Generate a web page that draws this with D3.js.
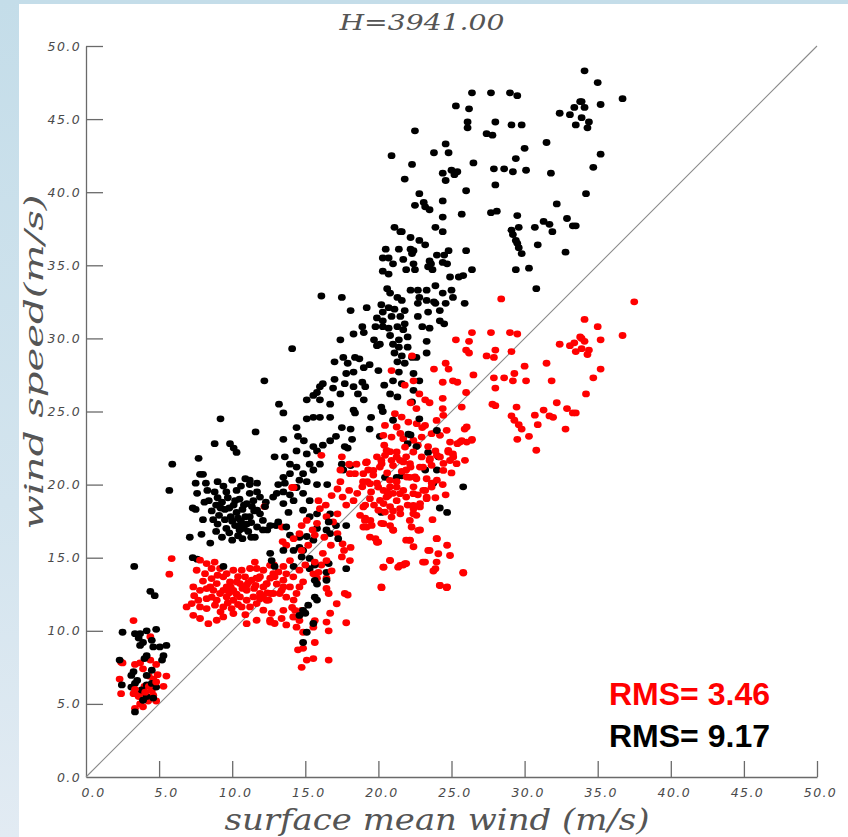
<!DOCTYPE html>
<html>
<head>
<meta charset="utf-8">
<script src="https://cdn.jsdelivr.net/npm/d3@7"></script>
<style>
  html, body { margin: 0; padding: 0; }
  body { width: 848px; height: 837px; overflow: hidden;
         background: linear-gradient(180deg, #c4dde9 0%, #d3e4ee 60%, #e2ebf3 100%); }
</style>
</head>
<body>
<svg id="chart" width="848" height="837"></svg>
<script>
// tick values
const xTicks = [0, 5, 10, 15, 20, 25, 30, 35, 40, 45, 50];
const yTicks = [0, 5, 10, 15, 20, 25, 30, 35, 40, 45, 50];

// black points: [surface mean wind, wind speed] (uncorrected)
const blackPts = [
  [2.5,9.9],[3.35,9.8],[3.7,9.8],[4.15,10.0],[4.8,10.1],[3.6,9.5],[3.9,9.2],[4.5,9.35],[4.6,8.9],[5.05,8.9],[5.5,9.0],
  [3.7,9.0],[4.15,8.3],[4.0,8.1],[5.3,8.3],[5.2,8.0],[2.3,8.0],[3.25,7.2],[3.1,6.95],[3.5,6.6],[4.15,6.95],[4.5,7.3],
  [4.15,6.3],[2.45,6.3],[3.1,6.15],[3.35,6.4],[3.8,5.95],[4.15,5.5],[4.6,5.4],[4.8,6.15],[4.5,6.4],[3.35,4.45],[3.9,5.25],
  [3.3,14.4],[4.4,12.7],[4.7,12.4],[5.7,19.6],[5.9,21.4],
  [7.7,21.8],[7.8,20.7],[8.0,20.7],[7.5,20.1],[7.6,19.4],[7.3,18.4],[7.5,18.3],[7.1,16.4],[7.3,15.0],[7.6,14.9],
  [8.2,20.1],[8.8,19.5],[9.4,19.9],[10.0,20.3],[10.6,19.9],[11.2,20.0],[11.7,19.5],[12.3,18.8],
  [8.4,18.9],[8.9,18.6],[9.3,18.8],[9.7,19.1],[10.1,18.6],[10.5,19.0],[11.0,18.7],
  [8.6,18.2],[9.1,17.9],[9.5,18.3],[9.9,17.8],[10.3,18.1],[10.6,17.5],[10.9,17.8],[11.3,17.4],
  [9.0,17.3],[9.6,17.0],[10.2,17.2],[10.5,16.9],[10.8,17.0],[11.1,16.8],[12.4,16.9],[13.0,17.2],
  [9.3,16.4],[10.0,16.2],[10.7,16.3],[8.0,17.6],[7.9,16.6],[8.5,16.0],[10.4,17.7],[10.7,18.3],[9.8,18.4],[11.0,17.3],[9.4,14.4],
  [8.3,19.6],[9.0,20.2],[9.6,19.5],[10.3,19.6],[10.9,20.4],[8.7,17.6],[9.2,18.4],[10.0,17.5],[10.2,18.9],[10.8,18.6],
  [11.5,18.2],[9.8,16.7],[10.4,16.5],[11.3,16.4],[8.9,16.8],[9.5,17.6],[10.6,17.2],[11.9,18.0],[8.1,18.8],[9.0,19.1],
  [9.2,24.5],[8.8,22.8],[9.85,22.8],[10.1,22.5],[10.3,22.2],[11.6,23.6],[12.2,27.1],[14.1,29.3],[13.2,25.5],[13.5,24.9],
  [12.9,21.9],[13.6,21.9],[13.5,23.1],[14.4,23.9],[14.5,23.3],[14.9,23.0],[14.4,22.3],[15.1,22.1],[15.55,22.6],[15.8,22.3],
  [16.2,22.7],[16.7,23.0],[13.95,21.4],[14.4,21.2],[14.85,20.75],[14.6,20.3],[15.1,20.2],[15.3,21.4],[16.0,21.4],[15.55,21.0],
  [13.95,20.75],[13.5,20.5],[13.6,20.1],[13.15,20.0],[13.05,19.4],[13.5,19.5],[13.95,19.3],[14.85,19.4],[14.4,19.8],[15.8,20.0],
  [16.5,20.0],[17.5,21.4],[17.6,21.0],[18.1,21.3],
  [15.1,25.8],[15.55,26.1],[16.0,25.8],[15.8,26.3],[16.2,26.9],[16.0,26.7],[15.1,24.5],[15.55,24.6],[16.0,24.6],[16.1,32.9],
  [17.1,23.3],[18.1,23.8],[17.7,22.6],
  [11.2,20.3],[11.7,20.1],[11.2,19.4],[11.45,18.9],[11.9,19.15],[11.35,18.5],[11.7,18.25],[11.2,17.8],[12.25,18.5],
  [12.8,19.15],[13.5,18.7],[14.2,18.9],[15.3,18.9],[15.8,18.0],[15.3,17.8],[16.7,18.0],[14.85,18.25],[13.85,18.1],
  [12.1,17.55],[12.6,17.2],[11.7,17.1],[12.1,16.9],[11.55,16.4],
  [13.15,17.45],[13.7,17.1],[13.95,16.55],[14.6,16.4],[15.1,16.45],[15.55,16.2],[15.8,17.0],[16.45,16.9],[16.7,16.65],[17.1,17.2],
  [12.6,15.3],[12.7,14.8],[13.5,15.5],[14.2,15.5],[14.6,15.7],[14.85,15.5],[14.75,15.05],[15.3,14.95],[15.65,14.5],[15.3,14.25],
  [14.2,14.4],[12.9,14.4],[16.6,14.6],[16.45,14.0],[17.8,14.25],[15.65,13.45],[15.8,13.2],[16.45,13.45],[15.65,12.3],[15.8,12.1],
  [15.2,11.75],[15.0,11.2],[14.6,11.05],[14.85,11.4],[15.55,10.5],[15.1,9.9],[14.85,9.2],
  [16.6,17.45],[17.25,16.3],[17.8,17.2],
  [20.2,18.1],[20.45,20.5],[21.25,20.5],[21.6,20.6],[23.2,21.0],[24.0,21.0],[23.75,20.1],[24.2,18.4],[24.7,18.1],[25.8,19.85],
  [23.4,22.2],[24.1,21.9],
  [17.5,32.8],[18.1,31.9],[19.2,32.1],[20.6,33.4],[20.8,33.1],[21.3,32.8],[21.6,32.6],[22.2,33.3],[22.7,33.3],[23.3,33.3],
  [23.9,33.6],[22.8,32.8],[22.7,32.4],[23.3,32.6],[23.8,32.5],[23.9,32.4],[24.4,33.1],[25.0,33.3],[25.1,32.8],[24.6,32.4],[25.9,32.4],
  [20.2,32.3],[20.7,32.1],[20.3,31.8],[21.1,32.0],[21.8,31.9],[21.5,31.5],
  [20.9,31.5],[20.3,31.2],[19.9,31.4],[19.8,30.8],[20.3,30.8],[20.7,30.7],[21.3,30.8],[21.8,31.0],[21.7,30.6],[22.0,30.1],
  [22.7,31.5],[23.0,30.8],[23.5,30.7],[23.4,31.8],[24.2,31.2],[24.5,31.0],[24.2,31.9],
  [18.9,30.8],[19.0,30.4],[18.3,30.3],[19.7,29.9],[19.9,29.5],[20.1,29.6],
  [20.8,30.2],[21.0,29.6],[21.4,29.4],[21.1,29.0],[21.6,28.8],[21.4,29.9],
  [22.0,29.4],[22.6,28.7],[23.3,29.0],[23.3,29.8],[17.4,29.9],[17.6,28.7],[17.9,28.3],[17.0,28.4],
  [18.4,28.7],[18.7,28.6],[19.0,28.0],[19.4,28.2],[20.0,27.8],
  [21.3,28.4],[21.8,28.3],[22.3,28.7],[21.4,27.7],[22.4,27.6],[22.8,27.1],
  [17.0,27.2],[17.8,27.6],[18.3,27.7],[17.7,26.9],[18.3,26.7],[18.9,27.0],[18.6,26.2],[19.0,25.8],[16.9,26.6],[17.4,26.2],
  [20.4,26.8],[20.8,26.2],[21.3,26.0],[21.6,26.9],[21.0,27.1],
  [18.3,25.1],[18.4,24.9],[20.2,25.3],[20.3,25.0],[19.5,24.6],[16.7,25.5],[16.7,24.6],
  [17.5,23.9],[18.2,23.1],[19.4,23.8],[20.1,23.3],[22.8,24.5],[24.0,23.7],[22.2,23.4],[22.0,22.8],[22.6,22.6],[17.9,22.5],[30.8,33.4],
  [22.4,26.45],[22.3,25.65],[21.0,24.4],[22.05,23.45],[19.1,26.7],
  [26.4,46.8],[27.7,46.8],[29.0,46.8],[29.5,46.6],[25.3,45.9],[26.2,45.7],[26.1,44.8],[26.1,44.4],[28.0,44.8],[29.1,44.6],
  [29.8,44.6],[22.5,44.2],[27.4,44.0],[27.8,43.9],[31.5,43.4],[24.6,43.3],[30.0,43.0],[20.9,42.5],[23.8,42.7],[24.8,42.7],
  [29.4,42.3],[22.3,41.9],[26.5,42.0],[25.0,41.5],[25.4,41.4],[25.2,41.2],[24.4,41.3],[24.6,40.8],[27.9,41.6],[28.6,41.6],
  [29.2,41.4],[30.1,41.5],[31.8,41.3],[21.8,40.9],[28.0,40.5],[26.0,40.1],[22.8,39.9],[22.5,39.1],[23.1,39.3],[23.2,39.0],
  [23.5,38.8],[24.4,39.4],[32.2,39.2],[27.7,38.6],[28.1,38.7],[24.4,38.3],[25.7,38.5],[29.5,38.4],[31.3,38.0],[31.7,37.8],
  [21.1,37.6],[21.5,37.3],[21.6,37.3],[23.9,37.6],[24.4,37.3],[29.6,37.6],[29.1,37.4],[29.2,37.1],[30.7,37.6],[31.9,37.3],
  [22.2,36.9],[22.8,36.7],[23.2,36.4],[29.4,36.7],[29.5,36.5],[29.6,36.2],[29.8,35.8],[30.9,36.4],[20.5,36.1],[21.4,36.1],
  [22.2,36.1],[22.4,36.0],[22.3,35.8],[24.8,36.0],[24.5,35.7],[24.0,35.7],[26.0,36.0],[20.3,35.5],[20.7,35.5],[21.0,35.1],
  [21.7,35.4],[23.5,35.3],[23.6,35.1],[23.4,34.9],[24.4,35.2],[24.7,35.1],[22.4,35.1],[21.9,34.7],[22.5,34.7],[23.7,34.7],
  [20.3,34.6],[20.7,34.4],[26.4,34.7],[25.8,34.3],[25.5,34.2],[24.9,34.2],[29.4,34.7],[30.3,34.8],
  [34.1,48.3],[35.0,47.5],[36.7,46.4],[33.8,46.2],[33.9,46.2],[33.4,45.8],[34.1,45.8],[35.2,46.0],[33.1,45.3],[32.4,45.4],
  [33.9,45.1],[33.5,44.6],[34.4,44.8],[34.3,44.4],[35.2,42.6],[34.7,41.7],[34.2,39.9],[32.9,38.2],[33.3,37.7],[33.5,37.7],[32.8,35.9]
];

// red points: [surface mean wind, wind speed] (corrected)
const redPts = [
  [3.25,10.7],[4.4,9.6],[2.4,7.85],[2.5,7.8],[3.35,7.7],[3.7,7.8],[3.9,7.4],[4.4,8.0],[4.8,7.7],[4.9,7.0],[5.5,6.9],
  [5.3,6.2],[4.6,6.7],[4.3,6.9],[4.0,6.2],[4.5,5.9],[3.7,5.7],[2.3,6.7],[2.4,5.7],[3.25,5.7],[3.6,5.5],[3.7,5.0],
  [3.35,4.7],[3.9,4.8],[4.25,5.2],[4.6,5.6],[4.8,5.2],[3.35,6.0],[4.05,5.8],[4.3,6.2],[4.8,6.5],
  [5.86,14.94],[5.7,13.87],
  [7.57,14.14],[8.14,13.91],[8.59,13.57],[8.94,13.23],[9.39,13.69],[9.62,13.0],[10.08,12.77],[10.53,13.23],[10.88,13.69],
  [11.33,13.46],[11.79,13.57],[12.13,13.0],[11.9,12.55],[11.45,12.32],[10.99,12.09],[10.53,12.32],[10.08,12.09],[9.62,12.32],
  [9.17,12.55],[8.71,12.77],[8.25,12.89],[7.8,12.77],[7.34,13.0],[7.23,11.86],[7.68,12.09],[7.8,11.63],[8.25,11.52],
  [8.82,11.75],[9.39,11.63],[9.96,11.52],[10.65,11.63],[11.22,11.63],[11.67,11.86],[12.36,12.09],[12.81,12.55],[13.38,12.77],
  [13.95,13.0],[14.18,13.69],[13.5,13.46],[13.16,14.03],[12.59,14.48],[12.13,14.14],[11.67,14.26],[11.22,14.26],[10.65,14.14],
  [10.08,14.14],[9.62,13.91],[9.17,14.26],[8.59,14.26],[8.25,14.6],[7.8,14.83],[7.34,11.06],[7.8,10.84],[8.37,10.49],
  [8.94,10.72],[9.39,10.95],[10.08,11.18],[10.99,10.49],[11.67,10.72],[12.59,10.72],[13.38,10.84],[14.18,10.95],[12.13,11.41],
  [6.88,11.63],[12.81,13.91],[10.99,13.12],[10.31,13.34],[9.85,13.34],[8.94,12.09],[8.25,12.2],[9.39,12.77],[10.99,12.77],[12.36,13.23],
  [8.0,13.4],[8.5,13.0],[9.0,13.8],[9.8,12.6],[10.3,12.5],[10.7,12.9],[11.1,13.3],[11.5,12.9],[9.2,11.3],[9.7,11.9],
  [10.4,11.8],[10.9,11.1],[11.9,12.2],[8.6,12.3],[9.9,13.0],[10.4,13.7],[11.6,13.1],[12.4,12.6],[7.4,12.4],[8.8,14.7],
  [12.2,18.5],[14.1,19.8],
  [13.4,17.1],[13.45,16.1],[13.7,15.85],[11.55,14.7],[11.65,13.6],[11.9,13.7],[12.6,13.6],[12.85,14.5],
  [12.9,13.7],[13.05,13.2],[13.5,13.0],[13.25,12.55],[13.7,12.3],[12.5,12.1],[12.6,12.55],[12.1,12.4],[12.35,13.2],
  [12.7,11.2],[12.6,10.6],[12.9,10.5],[13.5,11.4],[13.7,10.4],[14.2,12.1],[14.3,11.4],
  [14.6,13.0],[14.4,12.55],[14.85,13.35],[15.8,13.6],[15.9,14.0],[16.1,14.5],[16.45,13.6],[16.45,12.9],[16.6,12.55],
  [17.15,11.85],[17.7,12.55],[17.9,12.45],[14.1,11.6],[14.75,11.4],[14.2,10.95],[14.6,10.7],[14.4,10.25],[14.85,9.9],
  [15.55,10.25],[15.65,10.7],[16.45,10.6],[16.7,11.2],[16.6,10.0],[14.5,8.7],[14.85,8.8],[15.1,8.0],[15.55,8.1],[14.75,7.5],
  [16.6,8.0],[15.65,9.2],[17.8,10.55],
  [15.9,18.9],[16.0,18.35],[16.4,18.6],[16.8,19.25],[17.2,19.7],[17.55,19.15],[18.0,19.6],[18.3,18.9],[18.55,19.4],[18.9,19.85],
  [19.25,20.2],[19.5,19.5],[19.1,18.6],[18.75,17.9],[17.8,18.6],[17.2,18.0],[16.9,17.45],[17.2,16.65],[17.55,15.95],[17.65,15.5],
  [18.1,15.7],[16.75,15.85],[16.3,16.4],[15.65,16.55],[15.5,16.9],[15.1,17.55],[14.75,17.2],[14.6,16.65],[14.2,16.3],[15.2,15.85],
  [14.75,15.5],[13.95,14.8],[13.5,14.4],[13.7,13.9],[16.2,15.3],[16.45,14.8],[17.5,15.05],[18.05,14.8],[16.8,14.1],[15.65,14.7],
  [15.55,13.9],[14.6,14.15],[15.0,14.5],[16.45,17.8],[15.8,17.35],
  [17.4,21.0],[18.05,20.75],[18.5,21.4],[19.2,21.55],[19.3,21.0],[19.65,20.65],[20.1,21.2],[20.2,21.65],[19.9,21.9],[20.45,22.0],
  [20.8,22.25],[21.25,21.9],[21.0,21.3],[21.7,21.55],[21.9,21.0],[22.15,20.5],[21.25,20.2],[20.8,19.85],[20.35,19.6],[19.9,20.1],
  [20.55,19.15],[21.0,19.4],[21.7,19.6],[22.4,19.85],[21.9,19.15],[21.25,18.9],[20.8,18.5],[20.35,18.7],[20.0,18.25],[21.5,18.0],
  [22.4,18.35],[22.85,18.7],[23.2,19.6],[22.6,20.4],[23.05,21.2],[23.5,21.65],[24.0,22.0],[24.45,21.45],[24.9,21.65],[25.1,22.1],
  [24.0,20.3],[23.65,20.1],[23.3,19.15],[22.6,17.9],[22.15,17.55],[22.85,16.9],[22.4,15.75],[22.15,16.2],[21.0,16.9],[20.8,17.2],
  [20.2,17.35],[19.45,17.55],[19.8,16.3],[19.9,16.05],[19.2,17.1],[19.1,17.7],
  [20.6,20.8],[21.6,20.9],[22.2,21.2],[21.9,21.9],[20.4,22.7],[21.5,23.5],[22.7,22.7],[23.4,22.6],[23.9,22.3],[23.0,23.9],
  [21.0,18.2],[22.0,18.6],[22.7,19.3],[20.6,19.5],[19.7,18.6],[23.9,19.1],[24.4,20.0],[24.6,19.3],[25.0,20.8],[23.7,17.6],
  [24.0,16.3],[24.7,15.85],[24.9,15.15],[23.9,14.25],[24.2,13.1],[24.7,13.0],[25.8,14.0],[23.05,14.7],[23.5,15.5],[21.7,14.5],
  [21.35,14.35],[21.9,14.6],[20.8,14.8],[20.35,14.35],[20.2,13.0],[21.9,16.2],
  [16.1,22.0],[17.5,21.9],[18.0,21.4],[19.15,21.5],[17.4,20.2],[18.4,20.75],[18.95,20.2],[14.2,19.8],
  [21.13,24.85],[21.59,24.62],[20.45,24.05],[21.25,23.94],[22.05,24.28],[22.62,24.17],[23.19,24.05],[23.98,24.39],[24.44,24.74],
  [24.67,23.71],[24.21,23.37],[23.64,23.48],[22.96,23.25],[22.39,23.03],[21.7,23.14],[20.9,23.25],[20.34,23.37],[20.56,22.34],
  [21.25,22.23],[21.82,22.57],[22.39,22.23],[22.96,21.89],[23.53,21.77],[24.21,21.89],[24.78,22.23],[25.12,21.89],[25.58,22.91],
  [26.04,22.91],[26.38,23.03],[25.92,21.66],[25.35,21.43],[24.44,20.97],[23.64,21.32],[22.84,21.2],[22.16,21.43],[21.48,21.66],
  [20.9,21.66],[20.22,21.43],[19.65,20.97],[19.2,21.54],[18.97,20.75],[19.42,20.06],[19.99,19.83],[20.79,20.29],[21.25,19.83],
  [21.93,20.52],[22.5,20.52],[23.3,20.4],[23.64,19.83],[23.07,19.61],[22.39,19.38],[21.48,19.38],[20.68,19.26],[20.11,18.92],
  [19.42,19.04],[18.97,18.47],[19.08,17.55],[18.97,17.1],[19.54,17.21],[20.45,18.12],[20.9,17.78],[21.48,18.35],[22.39,18.58],
  [22.84,18.47],[23.3,19.04],[22.39,18.01],[21.02,16.87],[20.34,17.33],[19.42,16.41],[19.99,16.07],[22.27,17.1],[22.73,16.87],
  [23.98,16.3],[22.16,16.19],[23.41,15.5],[24.1,15.27],[20.79,14.82],[20.34,14.36],[21.48,14.48],[21.82,14.59],[23.19,14.7],
  [23.98,14.7],[25.81,13.95],[23.76,14.09],[20.22,12.95],[24.21,13.11],[24.67,12.95],[26.04,23.94],[24.9,22.91],[24.78,22.34],
  [28.4,32.7],[25.3,29.9],[26.4,30.4],[27.7,30.4],[29.0,30.4],[29.5,30.3],[26.2,29.8],[26.0,29.2],[26.2,29.0],[27.4,28.8],
  [27.9,28.7],[28.0,29.2],[29.1,29.1],[31.5,28.3],[30.0,28.1],[29.3,27.6],[28.6,27.3],[29.2,27.1],[30.1,27.1],[27.9,27.3],
  [28.0,26.6],[26.5,27.5],[24.6,28.3],[24.8,27.9],[23.8,27.9],[24.4,27.0],[25.1,27.1],[25.4,27.0],[26.0,26.3],[25.7,25.3],
  [24.4,25.9],[24.4,25.2],[22.3,28.8],[21.8,26.8],[22.4,27.1],[22.8,26.2],[23.2,25.8],[23.5,25.6],[22.2,25.6],[22.6,25.2],
  [20.9,27.8],[27.8,25.5],[28.0,25.4],[29.1,24.7],[29.3,24.4],[29.6,24.1],[29.8,23.8],[31.3,25.1],[31.7,24.7],[30.9,24.1],
  [30.3,23.3],[29.5,23.1],[25.9,23.8],[26.4,23.1],[25.7,23.0],[25.4,22.8],
  [29.45,25.3],[30.7,24.75],[31.95,24.6],[32.2,25.6],[30.8,22.35],[31.85,27.1],
  [37.5,32.5],[34.1,31.3],[35.0,30.8],[36.7,30.2],[33.8,30.1],[33.9,30.0],[33.4,29.7],[34.1,29.8],[35.2,29.9],[33.1,29.5],
  [32.4,29.6],[33.9,29.3],[33.5,29.1],[34.4,29.2],[34.3,28.9],[35.2,27.9],[34.7,27.3],[34.2,26.2],[32.9,25.2],[33.3,24.9],
  [33.5,24.9],[32.8,23.8]
];

const rmsLabels = [
  { text: "RMS= 3.46", color: "#ff0000" },
  { text: "RMS= 9.17", color: "#000000" }
];

const svg = d3.select("#chart");

// white panel over the blue slide background
svg.append("rect")
  .attr("x", 19).attr("y", 4)
  .attr("width", 829).attr("height", 833)
  .attr("fill", "#ffffff");

const x = d3.scaleLinear().domain([0, 50]).range([86, 817]);
const y = d3.scaleLinear().domain([0, 50]).range([777, 46]);

// axes (ticks pointing inward, no outer ticks)
const xAxis = svg.append("g")
  .attr("transform", `translate(0,${y(0)})`)
  .call(d3.axisBottom(x).tickValues(xTicks).tickSize(-16).tickSizeOuter(0).tickPadding(11)
    .tickFormat(d3.format(".1f")));

const yAxis = svg.append("g")
  .attr("transform", `translate(${x(0)},0)`)
  .call(d3.axisLeft(y).tickValues(yTicks).tickSize(-17).tickSizeOuter(0).tickPadding(5)
    .tickFormat(d3.format(".1f")));

[xAxis, yAxis].forEach(g => {
  g.select(".domain").attr("stroke", "#6a6a6a").attr("stroke-width", 1.3);
  g.selectAll(".tick line").attr("stroke", "#6a6a6a").attr("stroke-width", 1.3);
  g.selectAll(".tick text")
    .attr("fill", "#4a4a4a")
    .style("font-family", "'DejaVu Sans', sans-serif")
    .style("font-style", "italic")
    .style("font-size", "12.5px")
    .style("letter-spacing", "1.4px");
});
// hide the zero tick lines that sit on the axis
xAxis.selectAll(".tick").filter(d => d === 0).select("line").remove();
yAxis.selectAll(".tick").filter(d => d === 0).select("line").remove();
xAxis.selectAll(".tick text").attr("dx", d => d < 10 ? 7 : 3);

// 1:1 line
svg.append("line")
  .attr("x1", x(0)).attr("y1", y(0))
  .attr("x2", x(50)).attr("y2", y(50))
  .attr("stroke", "#8a8a8a")
  .attr("stroke-width", 1.1);

// interleave the two series so overlaps look mixed, like the original plot
const n = Math.max(blackPts.length, redPts.length);
const pts = [];
for (let i = 0; i < n; i++) {
  if (blackPts[i]) pts.push({ v: blackPts[i], c: "#000000" });
  if (redPts[i]) pts.push({ v: redPts[i], c: "#ff0000" });
}

svg.append("g")
  .selectAll("ellipse")
  .data(pts)
  .join("ellipse")
  .attr("cx", d => x(d.v[0]))
  .attr("cy", d => y(d.v[1]))
  .attr("rx", 3.9)
  .attr("ry", 3.4)
  .attr("fill", d => d.c);

// title
svg.append("text")
  .attr("x", 422).attr("y", 30)
  .attr("text-anchor", "middle")
  .attr("textLength", 165)
  .attr("lengthAdjust", "spacingAndGlyphs")
  .attr("fill", "#555")
  .style("font-family", "'DejaVu Serif', serif")
  .style("font-style", "italic")
  .style("font-size", "23px")
  .text("H=3941.00");

// axis titles
svg.append("text")
  .attr("x", 437).attr("y", 830)
  .attr("text-anchor", "middle")
  .attr("textLength", 425)
  .attr("lengthAdjust", "spacingAndGlyphs")
  .attr("fill", "#555")
  .style("font-family", "'DejaVu Serif', serif")
  .style("font-style", "italic")
  .style("font-size", "29px")
  .text("surface mean wind (m/s)");

svg.append("text")
  .attr("transform", "translate(43,362) rotate(-90)")
  .attr("text-anchor", "middle")
  .attr("textLength", 335)
  .attr("lengthAdjust", "spacingAndGlyphs")
  .attr("fill", "#555")
  .style("font-family", "'DejaVu Serif', serif")
  .style("font-style", "italic")
  .style("font-size", "26px")
  .text("wind speed(m/s)");

// RMS annotations
svg.append("g")
  .selectAll("text")
  .data(rmsLabels)
  .join("text")
  .attr("x", 609)
  .attr("y", (d, i) => 705 + i * 42)
  .attr("fill", d => d.color)
  .style("font-family", "'Liberation Sans', Arial, sans-serif")
  .style("font-weight", "bold")
  .style("font-size", "32px")
  .text(d => d.text);
</script>
</body>
</html>
